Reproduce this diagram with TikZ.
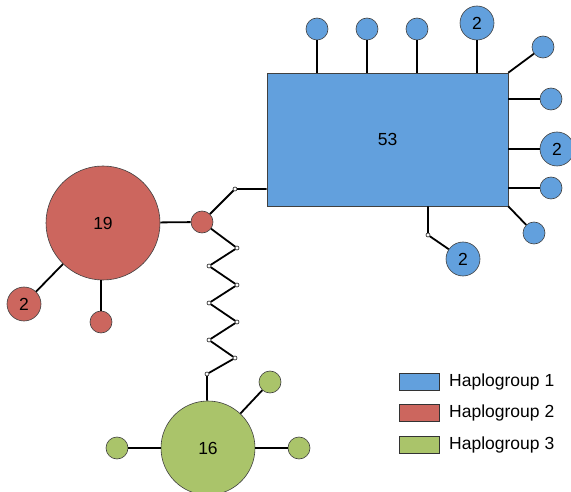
\documentclass[tikz,border=0pt]{standalone}
\usepackage{fontspec}
\setmainfont{Liberation Sans}
\usetikzlibrary{positioning}

\definecolor{hgblue}{RGB}{98,160,221}
\definecolor{hgred}{RGB}{204,102,94}
\definecolor{hggreen}{RGB}{170,196,106}

\begin{document}
\begin{tikzpicture}[x=1pt,y=-1pt,
  hap/.style={circle,draw=black!75,line width=0.6pt,inner sep=0,font=\fontsize{17.5}{17.5}\selectfont},
  one/.style={hap,minimum size=22pt},
  two/.style={hap,minimum size=34pt},
  mut/.style={circle,draw,fill=white,inner sep=0,minimum size=4pt,line width=0.4pt},
  link/.style={line width=1.8pt},
  key/.style={draw=black!80,line width=0.6pt,minimum width=40pt,minimum height=17pt,inner sep=0},
  keytext/.style={anchor=west,font=\fontsize{17.5}{17.5}\selectfont,inner sep=0}]
\useasboundingbox (0,0) rectangle (571,492);
% haplogroup 1
\node[draw=black!75,line width=0.6pt,fill=hgblue,minimum width=241pt,minimum height=133pt,inner sep=0,font=\fontsize{17.5}{17.5}\selectfont] (b53) at (387.5,139.5) {53};
\node[one,fill=hgblue] (bt1) at (317,29) {};
\node[one,fill=hgblue] (bt2) at (367,29) {};
\node[one,fill=hgblue] (bt3) at (417,29) {};
\node[two,fill=hgblue] (bt4) at (477,23) {2};
\node[one,fill=hgblue] (bc1) at (543,47) {};
\node[one,fill=hgblue] (br1) at (551,99) {};
\node[two,fill=hgblue] (br2) at (557,149) {2};
\node[one,fill=hgblue] (br3) at (551,188) {};
\node[one,fill=hgblue] (bc2) at (534,233) {};
\node[mut] (m2) at (428,235) {};
\node[two,fill=hgblue] (bb1) at (463,259) {2};
% haplogroup 2
\node[hap,fill=hgred,minimum size=114pt] (r19) at (103,223) {19};
\node[one,fill=hgred] (rx) at (202,222) {};
\node[two,fill=hgred] (r2) at (24,304) {2};
\node[one,fill=hgred] (r1) at (101,322) {};
\node[mut] (m1) at (235,189) {};
% haplogroup 3
\node[hap,fill=hggreen,minimum size=94pt] (g16) at (208,448) {16};
\node[one,fill=hggreen] (g1) at (270,382) {};
\node[one,fill=hggreen] (g2) at (117,448) {};
\node[one,fill=hggreen] (g3) at (299,448) {};
% zigzag
\node[mut] (z1) at (237,248) {};
\node[mut] (z2) at (209,266) {};
\node[mut] (z3) at (237,285) {};
\node[mut] (z4) at (209,303) {};
\node[mut] (z5) at (237,322) {};
\node[mut] (z6) at (209,340) {};
\node[mut] (z7) at (235,358) {};
\node[mut] (z8) at (207,374) {};

\draw[link] (bt1) -- (bt1 |- b53.north);
\draw[link] (bt2) -- (bt2 |- b53.north);
\draw[link] (bt3) -- (bt3 |- b53.north);
\draw[link] (bt4) -- (bt4 |- b53.north);
\draw[link] (b53.north east) -- (bc1);
\draw[link] (br1) -- (br1 -| b53.east);
\draw[link] (br2) -- (br2 -| b53.east);
\draw[link] (br3) -- (br3 -| b53.east);
\draw[link] (b53.south east) -- (bc2);
\draw[link] (m2 |- b53.south) -- (m2) -- (bb1);
\draw[link] (r19) -- (rx);
\draw[link] (r19) -- (r2);
\draw[link] (r1) -- (r1 |- r19.south);
\draw[link] (rx) -- (m1) -- (m1 -| b53.west);
\draw[link] (rx) -- (z1) -- (z2) -- (z3) -- (z4) -- (z5) -- (z6) -- (z7) -- (z8) -- (z8 |- g16.north);
\draw[link] (g16) -- (g1);
\draw[link] (g16) -- (g2);
\draw[link] (g16) -- (g3);
\foreach \n in {m1,m2,z1,z2,z3,z4,z5,z6,z7,z8} \node[mut] at (\n) {};

% legend
\node[key,fill=hgblue] (k1) at (419,382) {};
\node[key,fill=hgred] (k2) at (419,413) {};
\node[key,fill=hggreen] (k3) at (419,445) {};
\node[keytext] (t1) at (449,382) {Haplogroup 1};
\node[keytext] (t2) at (449,413) {Haplogroup 2};
\node[keytext] (t3) at (449,445) {Haplogroup 3};
\end{tikzpicture}
\end{document}
